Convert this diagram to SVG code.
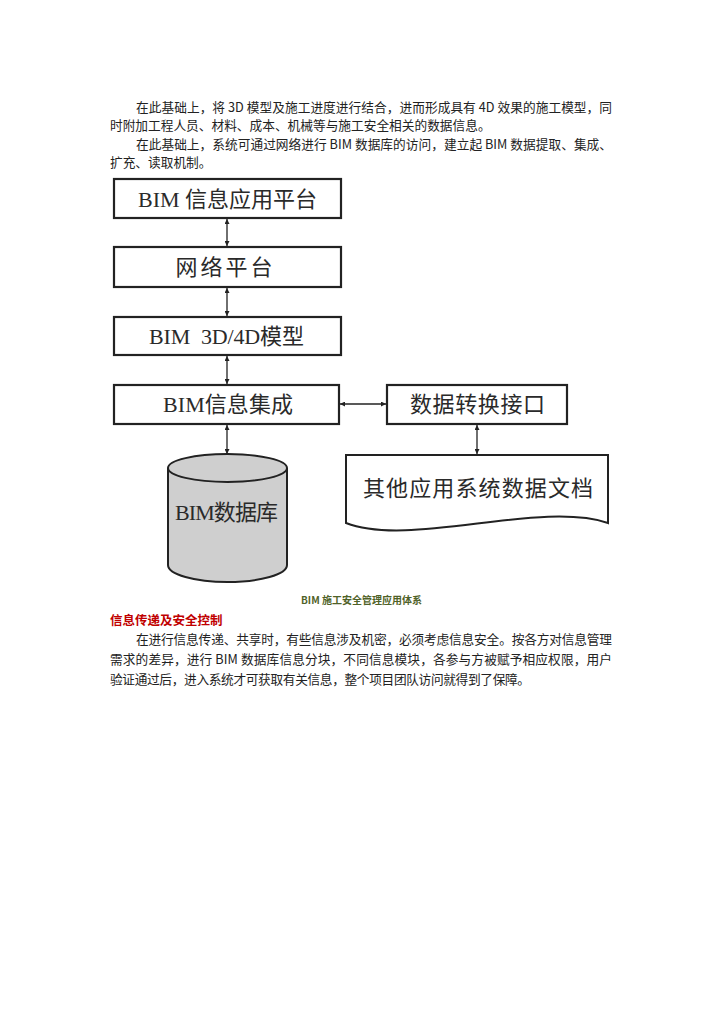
<svg xmlns="http://www.w3.org/2000/svg" width="724" height="1024" viewBox="0 0 724 1024">
<defs>
<style>
.body{font-family:"Noto Sans CJK SC","Noto Sans",sans-serif;font-size:12.7px;fill:#222}
.box{fill:#fff;stroke:#222;stroke-width:2.2}
.lbl{font-family:"Liberation Serif","Noto Sans CJK SC",serif;font-size:22px;fill:#2a2a2a;text-anchor:middle}
.conn{stroke:#222;stroke-width:1.3;fill:none;marker-start:url(#ah);marker-end:url(#ah)}
</style>
<marker id="ah" viewBox="0 0 10 10" refX="10" refY="5" markerWidth="7" markerHeight="5" markerUnits="userSpaceOnUse" orient="auto-start-reverse">
<path d="M0,0 L10,5 L0,10 Z" fill="#222"/>
</marker>
</defs>
<rect width="724" height="1024" fill="#fff"/>

<g id="para1" class="body">
<text x="136" y="111.5" textLength="476" lengthAdjust="spacing">在此基础上，将 3D 模型及施工进度进行结合，进而形成具有 4D 效果的施工模型，同</text>
<text x="110" y="130">时附加工程人员、材料、成本、机械等与施工安全相关的数据信息。</text>
<text x="136" y="148.5" textLength="476" lengthAdjust="spacing">在此基础上，系统可通过网络进行 BIM 数据库的访问，建立起 BIM 数据提取、集成、</text>
<text x="110" y="167">扩充、读取机制。</text>
</g>

<g id="connectors">
<line class="conn" x1="227" y1="219" x2="227" y2="246"/>
<line class="conn" x1="227" y1="288" x2="227" y2="316"/>
<line class="conn" x1="227" y1="356" x2="227" y2="384"/>
<line class="conn" x1="227" y1="425" x2="227" y2="454"/>
<line class="conn" x1="340" y1="404" x2="386" y2="404"/>
<line class="conn" x1="477" y1="425" x2="477" y2="454"/>
</g>

<g id="n1">
<rect class="box" x="114" y="179" width="227" height="39"/>
<text class="lbl" x="227.5" y="207" textLength="179" lengthAdjust="spacing">BIM 信息应用平台</text>
</g>
<g id="n2">
<rect class="box" x="114" y="247" width="227" height="40"/>
<text class="lbl" x="224" y="275" textLength="97" lengthAdjust="spacing">网络平台</text>
</g>
<g id="n3">
<rect class="box" x="114" y="317" width="227" height="38"/>
<text class="lbl" x="226.5" y="344" textLength="155" lengthAdjust="spacing" style="white-space:pre">BIM  3D/4D模型</text>
</g>
<g id="n4">
<rect class="box" x="114" y="385" width="225" height="39"/>
<text class="lbl" x="228" y="412" textLength="130" lengthAdjust="spacing">BIM信息集成</text>
</g>
<g id="n5">
<rect class="box" x="387" y="385" width="180" height="39"/>
<text class="lbl" x="477.5" y="412" textLength="135" lengthAdjust="spacing">数据转换接口</text>
</g>
<g id="n6">
<path d="M346,455 H608 V523 C540,500 410,548 346,523 Z" fill="#fff" stroke="#222" stroke-width="2"/>
<text class="lbl" x="478" y="496" textLength="230" lengthAdjust="spacing">其他应用系统数据文档</text>
</g>
<g id="n7">
<path d="M168,468 A59.5,14 0 0 1 287,468 V565 A59.5,17 0 0 1 168,565 Z" fill="#cfcfcf" stroke="#222" stroke-width="2"/>
<path d="M168,468 A59.5,14 0 0 0 287,468" fill="none" stroke="#222" stroke-width="2"/>
<text class="lbl" x="226.5" y="520" textLength="103" lengthAdjust="spacing">BIM数据库</text>
</g>

<text x="361.5" y="603.5" text-anchor="middle" font-family="Noto Sans CJK SC, Noto Sans, sans-serif" font-size="10px" font-weight="bold" fill="#4f6228">BIM 施工安全管理应用体系</text>
<text x="110" y="624.5" font-family="Noto Sans CJK SC, Noto Sans, sans-serif" font-size="12.5px" font-weight="bold" fill="#c00000">信息传递及安全控制</text>

<g id="para2" class="body">
<text x="136" y="643.5" textLength="476" lengthAdjust="spacing">在进行信息传递、共享时，有些信息涉及机密，必须考虑信息安全。按各方对信息管理</text>
<text x="110" y="663.5" textLength="502" lengthAdjust="spacing">需求的差异，进行 BIM 数据库信息分块，不同信息模块，各参与方被赋予相应权限，用户</text>
<text x="110" y="683.5" textLength="420" lengthAdjust="spacing">验证通过后，进入系统才可获取有关信息，整个项目团队访问就得到了保障。</text>
</g>
</svg>
